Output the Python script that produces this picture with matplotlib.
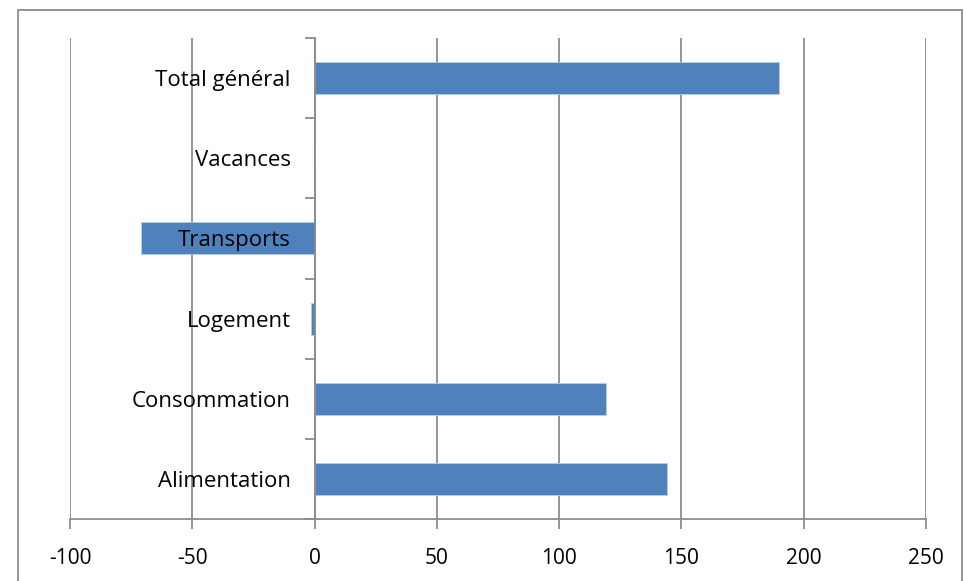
import matplotlib
matplotlib.use("Agg")
import matplotlib.pyplot as plt
from matplotlib.patches import Rectangle
import numpy as np

plt.rcParams['font.family'] = ['Open Sans', 'DejaVu Sans']

categories = ['Alimentation', 'Consommation', 'Logement', 'Transports', 'Vacances', 'Total général']
values = [144, 119, -1.5, -71, 0, 190]
x_ticks = [-100, -50, 0, 50, 100, 150, 200, 250]

bar_color = '#4F81BD'
grid_color = '#8C8C8C'

fig = plt.figure(figsize=(9.64, 5.81), dpi=100)
ax = fig.add_axes([70 / 964, 62 / 581, 856 / 964, 481 / 581])

y = np.arange(len(categories))
ax.barh(y, values, height=0.4, color=bar_color, edgecolor='#B9CDE5', linewidth=0.6, zorder=3)

ax.set_xlim(-100, 250)
ax.set_ylim(-0.5, len(categories) - 0.5)
ax.set_axisbelow(True)

# vertical gridlines
ax.set_xticks(x_ticks)
ax.set_xticklabels([str(t) for t in x_ticks], fontsize=15)
ax.xaxis.grid(True, color=grid_color, linewidth=1.3)
ax.tick_params(axis='x', direction='out', length=7, width=1.3, color=grid_color, pad=14)

# category axis sits at x = 0
ax.spines['left'].set_position(('data', 0))
ax.spines['left'].set_color(grid_color)
ax.spines['left'].set_linewidth(1.3)
ax.spines['left'].set_zorder(4)
ax.spines['bottom'].set_color(grid_color)
ax.spines['bottom'].set_linewidth(1.3)
ax.spines['right'].set_visible(False)
ax.spines['top'].set_visible(False)

ax.set_yticks(np.arange(len(categories) + 1) - 0.5)
ax.set_yticklabels([])
ax.tick_params(axis='y', direction='out', length=7, width=1.3, color=grid_color)

# category names drawn over the bars
for yi, name in zip(y, categories):
    ax.annotate(name, xy=(0, yi), xytext=(-24, 0), textcoords='offset pixels',
                ha='right', va='center_baseline', fontsize=16, zorder=6)

# outer chart border
fig.patches.append(Rectangle((18 / 964, -0.02), (962 - 18) / 964, (571 / 581) + 0.02,
                             transform=fig.transFigure, fill=False,
                             edgecolor='#8C8C8C', linewidth=1.3))

fig.savefig('out.png', dpi=100)
